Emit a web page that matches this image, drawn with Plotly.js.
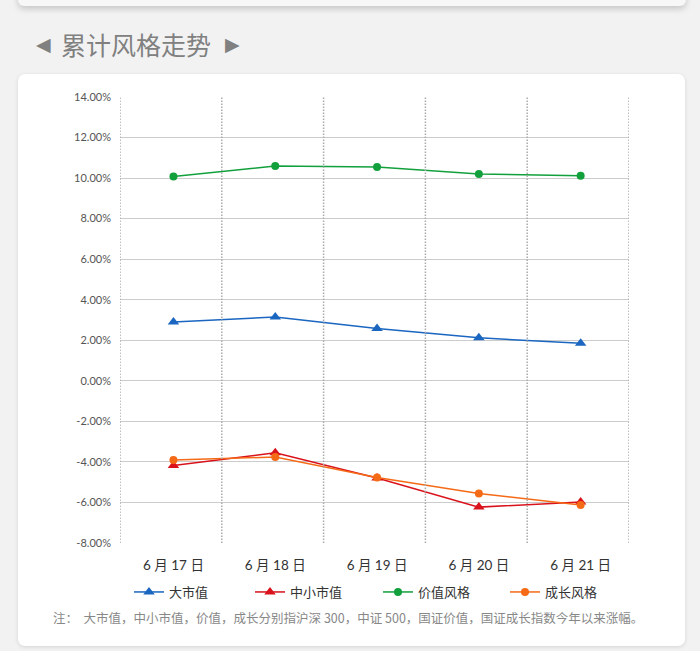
<!DOCTYPE html>
<html>
<head>
<meta charset="utf-8">
<script src="https://cdn.plot.ly/plotly-3.0.1.min.js"></script>
<style>
  html, body { margin: 0; padding: 0; background: #f2f2f2; width: 700px; height: 651px; overflow: hidden; }
  #topcard { position: absolute; left: 18px; top: -20px; width: 668px; height: 26px; background: #f7f7f7; border-radius: 6px; box-shadow: 0 3px 6px rgba(0,0,0,0.18); }
  #card { position: absolute; left: 18px; top: 74px; width: 667px; height: 572px; background: #ffffff; border-radius: 7px; box-shadow: 0 1px 4px rgba(0,0,0,0.12); }
  #chart { position: absolute; left: 0; top: 0; width: 700px; height: 651px; }
</style>
</head>
<body>
<div id="topcard"></div>
<div id="card"></div>
<div id="chart"></div>
<script>
// ---- data ----
const categories = ['6 月 17 日', '6 月 18 日', '6 月 19 日', '6 月 20 日', '6 月 21 日'];
const largeCap = [2.90, 3.15, 2.58, 2.12, 1.85];      // 大市值
const smallMidCap = [-4.18, -3.55, -4.79, -6.23, -5.98]; // 中小市值
const valueStyle = [10.08, 10.60, 10.55, 10.20, 10.12];  // 价值风格
const growthStyle = [-3.91, -3.76, -4.77, -5.56, -6.12]; // 成长风格
const seriesNames = ['大市值', '中小市值', '价值风格', '成长风格'];
const yTickVals = [14, 12, 10, 8, 6, 4, 2, 0, -2, -4, -6, -8];
const yTickText = ['14.00%', '12.00%', '10.00%', '8.00%', '6.00%', '4.00%', '2.00%', '0.00%', '-2.00%', '-4.00%', '-6.00%', '-8.00%'];
const titleText = '累计风格走势';
const noteText = '注：&nbsp; 大市值，中小市值，价值，成长分别指沪深 300，中证 500，国证价值，国证成长指数今年以来涨幅。';

const xIdx = categories.map((_, i) => i);
const font = 'Lato, "Noto Sans CJK SC", sans-serif';

function mk(name, y, color, symbol, size, legendId) {
  return {
    type: 'scatter', mode: 'lines+markers', name: name,
    x: xIdx, y: y,
    line: { color: color, width: 1.5 },
    marker: { color: color, symbol: symbol, size: size },
    legend: legendId,
    hoverinfo: 'skip'
  };
}

const traces = [
  mk(seriesNames[0], largeCap, '#1a66c0', 'triangle-up', 10, 'legend'),
  mk(seriesNames[1], smallMidCap, '#d9121b', 'triangle-up', 10, 'legend2'),
  mk(seriesNames[2], valueStyle, '#12a03c', 'circle', 8, 'legend3'),
  mk(seriesNames[3], growthStyle, '#f56a16', 'circle', 8, 'legend4')
];

const off = -0.525;
const shapes = [];
for (let k = 0; k <= categories.length; k++) {
  shapes.push({
    type: 'line', xref: 'x', yref: 'paper',
    x0: k + off, x1: k + off, y0: 0, y1: 1,
    line: { color: '#ababab', width: 1.5, dash: '1.5px,1.5px' },
    layer: 'above'
  });
}

function leg(px) {
  return {
    orientation: 'h', x: (px - 120) / 509, xanchor: 'left', y: (543 - 592) / 446, yanchor: 'middle',
    font: { size: 13, color: '#333', family: font }, bgcolor: 'rgba(0,0,0,0)'
  };
}

const layout = {
  width: 700, height: 651,
  margin: { l: 120, r: 71, t: 97, b: 108 },
  paper_bgcolor: 'rgba(0,0,0,0)',
  plot_bgcolor: 'rgba(0,0,0,0)',
  font: { family: font, color: '#333' },
  showlegend: true,
  legend: leg(129),
  legend2: leg(250),
  legend3: leg(378),
  legend4: leg(505),
  xaxis: {
    range: [off, categories.length + off],
    tickvals: xIdx, ticktext: categories,
    showgrid: false, zeroline: false, showline: false,
    ticks: '', ticklabelstandoff: 12,
    tickfont: { size: 13.5, color: '#333', family: font },
    fixedrange: true
  },
  yaxis: {
    range: [-8, 14],
    tickvals: yTickVals, ticktext: yTickText,
    showgrid: true, gridcolor: '#cccccc', gridwidth: 1,
    zeroline: false, showline: false, ticks: '',
    ticklabelstandoff: 8,
    tickfont: { size: 11, color: '#555', family: font },
    fixedrange: true
  },
  shapes: shapes,
  annotations: [
    { xref: 'paper', yref: 'paper', x: (43 - 120) / 509, y: (543 - 44) / 446, xanchor: 'center', yanchor: 'middle',
      text: '◀', showarrow: false, font: { size: 19, color: '#808080', family: '"DejaVu Sans", sans-serif' } },
    { xref: 'paper', yref: 'paper', x: (59 - 120) / 509, y: (543 - 44) / 446, xanchor: 'left', yanchor: 'middle',
      text: titleText, showarrow: false, font: { size: 25, color: '#808080', family: '"Noto Sans CJK SC", sans-serif' } },
    { xref: 'paper', yref: 'paper', x: (232 - 120) / 509, y: (543 - 44) / 446, xanchor: 'center', yanchor: 'middle',
      text: '▶', showarrow: false, font: { size: 19, color: '#808080', family: '"DejaVu Sans", sans-serif' } },
    { xref: 'paper', yref: 'paper', x: (51 - 120) / 509, y: (543 - 617) / 446, xanchor: 'left', yanchor: 'middle',
      text: noteText, showarrow: false, font: { size: 12.5, color: '#888', family: '"Noto Sans CJK SC", sans-serif' } }
  ]
};

Plotly.newPlot('chart', traces, layout, { staticPlot: true, displayModeBar: false });
</script>
</body>
</html>
